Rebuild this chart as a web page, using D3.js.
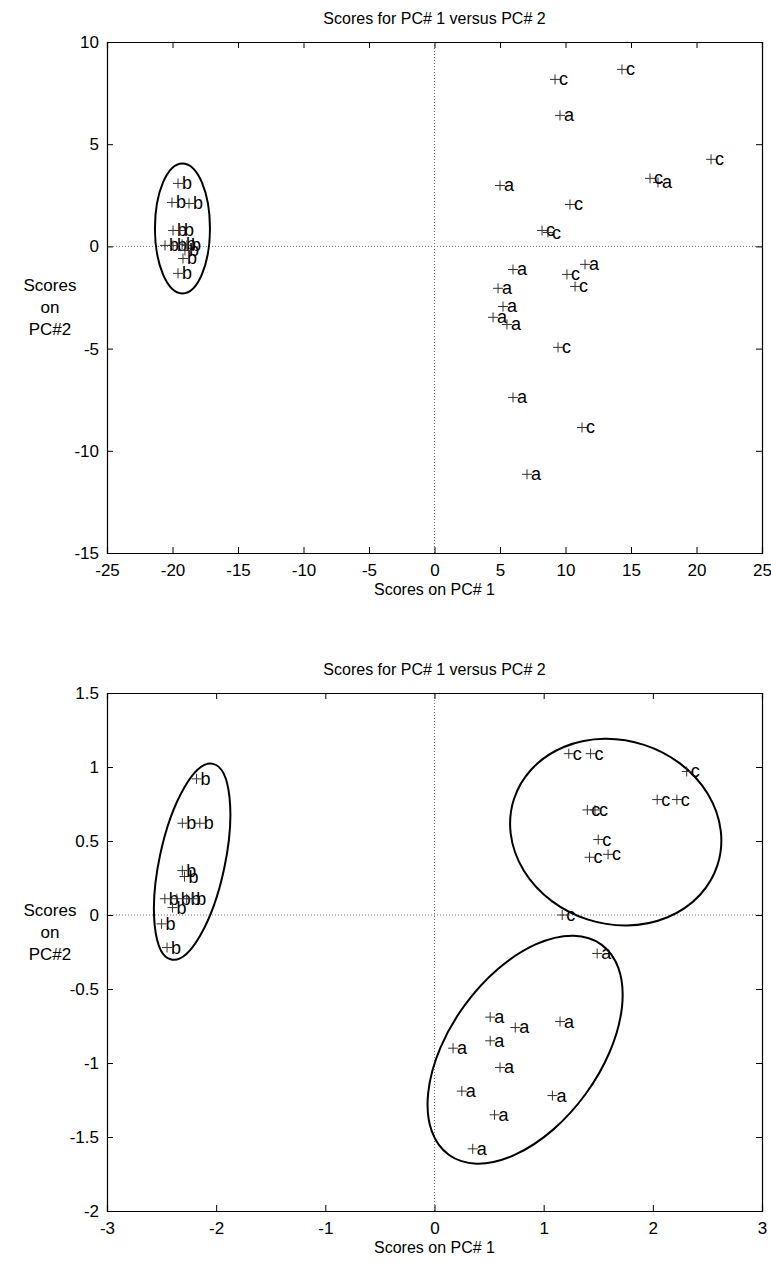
<!DOCTYPE html>
<html>
<head>
<meta charset="utf-8">
<script src="https://cdn.jsdelivr.net/npm/d3@7"></script>
<style>
  body { margin: 0; background: #fff; }
  svg { display: block; }
</style>
</head>
<body>
<div id="chart"></div>
<script>
// Scores plots (PC#1 vs PC#2), two panels

// top panel data
var topXTicks = [-25, -20, -15, -10, -5, 0, 5, 10, 15, 20, 25];
var topYTicks = [-15, -10, -5, 0, 5, 10];
var topA = [[9.58, 6.41], [17.06, 3.13], [5.0, 2.98], [5.99, -1.13], [11.49, -0.88], [4.85, -2.05],
            [5.23, -2.94], [4.47, -3.47], [5.53, -3.82], [5.99, -7.39], [7.06, -11.15]];
var topB = [[-19.58, 3.08], [-20.04, 2.15], [-18.74, 2.10], [-19.96, 0.78], [-19.43, 0.78], [-20.57, 0.05],
            [-19.96, 0.05], [-19.27, 0.10], [-18.9, 0.05], [-19.05, -0.2], [-19.2, -0.59], [-19.58, -1.32]];
var topC = [[9.2, 8.17], [14.31, 8.66], [21.11, 4.26], [16.45, 3.33], [10.34, 2.05], [8.21, 0.78],
            [8.66, 0.68], [10.11, -1.37], [10.73, -1.96], [9.43, -4.94], [11.26, -8.86]];
// ellipse: centre, semi axes (in x / y units), rotation in degrees
var topEllipses = [[-19.24, 0.88, 2.1, 3.18, 0]];

// bottom panel data
var botXTicks = [-3, -2, -1, 0, 1, 2, 3];
var botYTicks = [-2, -1.5, -1, -0.5, 0, 0.5, 1, 1.5];
var botA = [[1.49, -0.26], [0.51, -0.69], [0.74, -0.76], [1.15, -0.72], [0.51, -0.85], [0.17, -0.90],
            [0.60, -1.03], [0.25, -1.19], [1.08, -1.22], [0.55, -1.35], [0.35, -1.58]];
var botB = [[-2.18, 0.92], [-2.31, 0.62], [-2.15, 0.62], [-2.31, 0.30], [-2.29, 0.26], [-2.47, 0.11],
            [-2.36, 0.11], [-2.27, 0.11], [-2.22, 0.11], [-2.40, 0.05], [-2.50, -0.06], [-2.45, -0.22]];
var botC = [[1.23, 1.09], [1.43, 1.09], [2.31, 0.97], [2.04, 0.78], [2.22, 0.78], [1.40, 0.71],
            [1.47, 0.71], [1.50, 0.51], [1.42, 0.39], [1.59, 0.41], [1.17, 0.0]];
var botEllipses = [[-2.22, 0.36, 0.30, 0.676, 12], [1.66, 0.56, 0.98, 0.62, 18], [0.83, -0.91, 1.19, 0.507, -54]];

var title = "Scores for PC# 1 versus PC# 2";
var xTitle = "Scores on PC# 1";
var yTitle = ["Scores", "on", "PC#2"];

var width = 771, height = 1263;
var font = "'Liberation Sans', Arial, sans-serif";

var svg = d3.select("#chart")
    .append("svg")
    .attr("width", width)
    .attr("height", height);

function drawPanel(p) {
    var x = d3.scaleLinear().domain(d3.extent(p.xTicks)).range([107, 762]);
    var y = d3.scaleLinear().domain(d3.extent(p.yTicks)).range([p.bottom, p.top]);
    var g = svg.append("g");

    // zero lines (dotted)
    g.append("line")
        .attr("x1", x(0)).attr("x2", x(0))
        .attr("y1", y.range()[0]).attr("y2", y.range()[1])
        .attr("stroke", "#777").attr("stroke-width", 1)
        .attr("stroke-dasharray", "1,2");
    g.append("line")
        .attr("x1", x.range()[0]).attr("x2", x.range()[1])
        .attr("y1", y(0)).attr("y2", y(0))
        .attr("stroke", "#777").attr("stroke-width", 1)
        .attr("stroke-dasharray", "1,2");

    // axes, ticks inside on all four sides
    g.append("g")
        .attr("transform", "translate(0," + p.bottom + ")")
        .call(d3.axisBottom(x).tickValues(p.xTicks).tickSize(-6).tickPadding(11).tickFormat(d => String(d)));
    g.append("g")
        .attr("transform", "translate(0," + p.top + ")")
        .call(d3.axisTop(x).tickValues(p.xTicks).tickSize(-6).tickFormat(""));
    g.append("g")
        .attr("transform", "translate(107,0)")
        .call(d3.axisLeft(y).tickValues(p.yTicks).tickSize(-6).tickPadding(8).tickFormat(d => String(d)));
    g.append("g")
        .attr("transform", "translate(762,0)")
        .call(d3.axisRight(y).tickValues(p.yTicks).tickSize(-6).tickFormat(""));

    g.selectAll(".domain").attr("stroke", "#000").attr("stroke-width", 1.2);
    g.selectAll(".tick line").attr("stroke", "#000");
    g.selectAll(".tick text")
        .attr("font-family", font)
        .attr("font-size", "17px")
        .attr("fill", "#000");

    // ellipses
    p.ellipses.forEach(function (e) {
        var cx = x(e[0]), cy = y(e[1]);
        g.append("ellipse")
            .attr("cx", cx)
            .attr("cy", cy)
            .attr("rx", x(e[0] + e[2]) - cx)
            .attr("ry", cy - y(e[1] + e[3]))
            .attr("transform", "rotate(" + e[4] + "," + cx + "," + cy + ")")
            .attr("fill", "none")
            .attr("stroke", "#000")
            .attr("stroke-width", 2);
    });

    // points: "+" marker with class letter
    var groups = [["a", p.a], ["b", p.b], ["c", p.c]];
    groups.forEach(function (grp) {
        var pts = g.selectAll(null).data(grp[1]).enter().append("g")
            .attr("transform", d => "translate(" + x(d[0]) + "," + y(d[1]) + ")");
        pts.append("path")
            .attr("d", "M-5,0H5M0,-5V5")
            .attr("stroke", "#333")
            .attr("stroke-width", 1)
            .attr("fill", "none");
        pts.append("text")
            .attr("x", 4)
            .attr("y", 6)
            .text(grp[0])
            .attr("font-family", font)
            .attr("font-size", "18px")
            .attr("fill", "#000");
    });

    // titles
    svg.append("text")
        .attr("x", (x.range()[0] + x.range()[1]) / 2)
        .attr("y", p.top - 18)
        .attr("text-anchor", "middle")
        .attr("font-family", font)
        .attr("font-size", "16px")
        .text(title);
    svg.append("text")
        .attr("x", (x.range()[0] + x.range()[1]) / 2)
        .attr("y", p.bottom + 42)
        .attr("text-anchor", "middle")
        .attr("font-family", font)
        .attr("font-size", "16px")
        .text(xTitle);
    yTitle.forEach(function (t, i) {
        svg.append("text")
            .attr("x", 50)
            .attr("y", p.yLabel + i * 22)
            .attr("text-anchor", "middle")
            .attr("font-family", font)
            .attr("font-size", "17px")
            .text(t);
    });
}

drawPanel({ top: 42, bottom: 553, xTicks: topXTicks, yTicks: topYTicks,
            a: topA, b: topB, c: topC, ellipses: topEllipses, yLabel: 291 });
drawPanel({ top: 693, bottom: 1211, xTicks: botXTicks, yTicks: botYTicks,
            a: botA, b: botB, c: botC, ellipses: botEllipses, yLabel: 916 });
</script>
</body>
</html>
